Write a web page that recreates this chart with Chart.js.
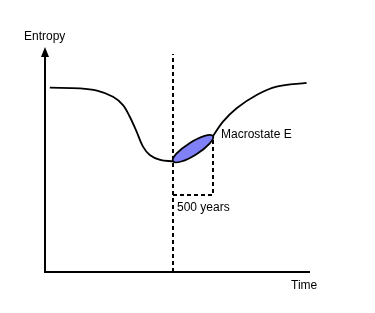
<!DOCTYPE html>
<html>
<head>
<meta charset="utf-8">
<script src="https://cdn.jsdelivr.net/npm/chart.js@4/dist/chart.umd.min.js"></script>
<style>
html,body{margin:0;padding:0;background:#fff;}
#wrap{width:375px;height:313px;}
</style>
</head>
<body>
<div id="wrap"><canvas id="c" width="375" height="313"></canvas></div>
<script>
// Time in years, entropy in arbitrary units
const beforeTime    = [60, 440, 650, 850, 975, 1060, 1145, 1225, 1310, 1440, 1600];
const beforeEntropy = [8.19, 8.16, 8.06, 7.79, 7.42, 6.90, 6.24, 5.57, 5.20, 4.98, 4.92];
const afterTime     = [2100, 2225, 2395, 2645, 2895, 3270];
const afterEntropy  = [6.04, 6.68, 7.28, 7.87, 8.24, 8.41];
const markerTime    = [1600, 1600];
const markerEntropy = [0, 9.69];
const bracketTime    = [1600, 2100, 2100];
const bracketEntropy = [3.42, 3.42, 6.04];
const ellipseStart = {x: 1600, y: 4.92};
const ellipseEnd   = {x: 2100, y: 6.04};
const labels = {yTitle: 'Entropy', xTitle: 'Time', macro: 'Macrostate E', span: '500 years'};

const pts = (xs, ys) => xs.map((x, i) => ({x, y: ys[i]}));

const overlay = {
  id: 'overlay',
  beforeDatasetsDraw(chart) {
    const {ctx, chartArea: a} = chart;
    ctx.save();
    ctx.strokeStyle = '#000';
    ctx.fillStyle = '#000';
    ctx.lineWidth = 2;
    ctx.beginPath();
    ctx.moveTo(a.left, a.bottom);
    ctx.lineTo(a.left, a.top + 9);
    ctx.moveTo(a.left - 1, a.bottom);
    ctx.lineTo(a.right, a.bottom);
    ctx.stroke();
    ctx.beginPath();
    ctx.moveTo(a.left, a.top);
    ctx.lineTo(a.left - 4, a.top + 10);
    ctx.lineTo(a.left + 4, a.top + 10);
    ctx.closePath();
    ctx.fill();
    ctx.restore();
  },
  afterDatasetsDraw(chart) {
    const {ctx} = chart;
    const xs = chart.scales.x, ys = chart.scales.y;
    const x1 = xs.getPixelForValue(ellipseStart.x), y1 = ys.getPixelForValue(ellipseStart.y);
    const x2 = xs.getPixelForValue(ellipseEnd.x), y2 = ys.getPixelForValue(ellipseEnd.y);
    const cx = (x1 + x2) / 2, cy = (y1 + y2) / 2;
    const len = Math.hypot(x2 - x1, y2 - y1);
    const ang = Math.atan2(y2 - y1, x2 - x1);
    ctx.save();
    ctx.beginPath();
    ctx.ellipse(cx, cy, len / 2, 6.5, ang, 0, Math.PI * 2);
    ctx.fillStyle = '#8080f8';
    ctx.fill();
    ctx.lineWidth = 1.8;
    ctx.strokeStyle = '#000';
    ctx.stroke();
    ctx.fillStyle = '#000';
    ctx.font = '12px "Liberation Sans", Arial, sans-serif';
    ctx.textBaseline = 'middle';
    ctx.textAlign = 'left';
    ctx.fillText(labels.yTitle, 24, 37);
    ctx.fillText(labels.xTitle, 291, 286);
    ctx.fillText(labels.macro, x2 + 8, y2 - 1);
    ctx.fillText(labels.span, xs.getPixelForValue(bracketTime[0]) + 4, ys.getPixelForValue(bracketEntropy[0]) + 13);
    ctx.restore();
  }
};

new Chart(document.getElementById('c'), {
  type: 'scatter',
  data: {
    datasets: [
      {data: pts(beforeTime, beforeEntropy), showLine: true, borderColor: '#000', borderWidth: 1.8, pointRadius: 0, tension: 0.35},
      {data: pts(afterTime, afterEntropy), showLine: true, borderColor: '#000', borderWidth: 1.8, pointRadius: 0, tension: 0.35},
      {data: pts(markerTime, markerEntropy), showLine: true, borderColor: '#000', borderWidth: 2, borderDash: [4, 3], pointRadius: 0},
      {data: pts(bracketTime, bracketEntropy), showLine: true, borderColor: '#000', borderWidth: 2, borderDash: [4, 3], pointRadius: 0}
    ]
  },
  options: {
    responsive: false,
    animation: false,
    layout: {padding: {left: 45, right: 65, top: 47, bottom: 41}},
    plugins: {legend: {display: false}, tooltip: {enabled: false}},
    scales: {
      x: {type: 'linear', display: false, min: 0, max: 3312.5},
      y: {type: 'linear', display: false, min: 0, max: 10}
    }
  },
  plugins: [overlay]
});
</script>
</body>
</html>
